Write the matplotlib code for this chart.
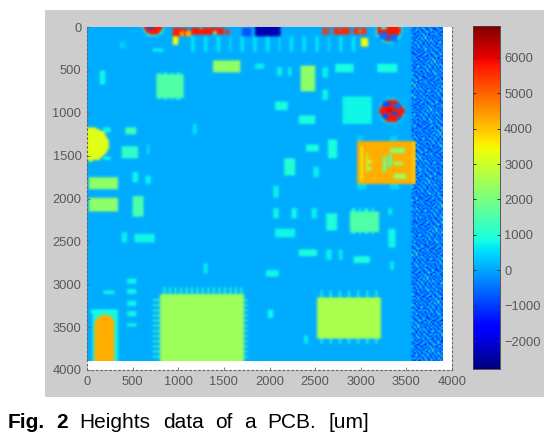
import numpy as np
import matplotlib
matplotlib.use('Agg')
import matplotlib.pyplot as plt
from matplotlib.colors import Normalize

plt.rcParams['font.family'] = ['Liberation Sans', 'DejaVu Sans']

W, H = 557, 438
STEP = 20
IMG_SIZE = 3900

vmin, vmax = -2790, 6900
board_height = 80
xticks = [0, 500, 1000, 1500, 2000, 2500, 3000, 3500, 4000]
yticks = [0, 500, 1000, 1500, 2000, 2500, 3000, 3500, 4000]
cbar_ticks = [-2000, -1000, 0, 1000, 2000, 3000, 4000, 5000, 6000]
caption_words = ['Fig.', '2', 'Heights', 'data', 'of', 'a', 'PCB.', '[um]']
caption_x = [8, 56, 79, 163, 215, 244, 267, 328]
caption_bold = [True, True, False, False, False, False, False, False]

# x0, y0, x1, y1, height in um
faint_pads = [
    (360, 190, 415, 260, 400), (1147, 130, 1182, 300, 600), (1282, 130, 1317, 300, 600),
    (1417, 130, 1452, 300, 600), (1552, 130, 1587, 300, 600), (1687, 130, 1722, 300, 600),
    (1822, 130, 1857, 300, 600), (1957, 130, 1992, 300, 600), (2092, 130, 2127, 300, 600),
    (2227, 130, 2262, 300, 600), (2362, 130, 2397, 300, 600), (2497, 130, 2532, 300, 600),
    (2632, 130, 2667, 300, 600), (2767, 130, 2802, 300, 600), (2902, 130, 2937, 300, 600),
]
cyan_pads = [
    (727, 260, 836, 307, 700), (1840, 443, 1950, 494, 700), (2078, 480, 2133, 580, 700),
    (135, 520, 205, 676, 800), (2060, 890, 2206, 980, 900), (1165, 1143, 1209, 1260, 650),
    (654, 1376, 690, 1493, 700), (508, 1706, 570, 1830, 800), (646, 1733, 698, 1850, 700),
    (2042, 2114, 2104, 2243, 800), (387, 2406, 442, 2515, 700), (526, 2417, 738, 2522, 800),
    (2060, 2359, 2279, 2452, 800), (1275, 2763, 1330, 2872, 700), (1969, 2845, 2100, 2930, 800),
    (442, 2944, 544, 2994, 800), (442, 3069, 544, 3119, 800), (442, 3205, 544, 3255, 800),
    (442, 3325, 544, 3375, 800), (442, 3457, 544, 3507, 800), (186, 3074, 303, 3114, 800),
    (1987, 3300, 2042, 3408, 800), (2236, 2114, 2291, 2231, 800), (2455, 2114, 2517, 2231, 700),
    (2627, 2172, 2736, 2386, 950), (3295, 2114, 3346, 2200, 700), (3291, 2367, 3386, 2573, 800),
    (2327, 2608, 2517, 2686, 900), (2627, 2608, 2681, 2717, 700), (2762, 2608, 2809, 2717, 700),
    (2919, 2678, 3091, 2755, 900), (3314, 2736, 3358, 2841, 700), (2380, 3599, 2426, 3700, 700),
    (2798, 812, 3127, 1143, 800), (2729, 443, 2911, 540, 850), (3174, 443, 3401, 548, 850),
    (2195, 482, 2243, 580, 700), (2590, 482, 2644, 600, 700), (2583, 735, 2644, 851, 800),
    (2316, 1046, 2499, 1143, 900), (2407, 1376, 2535, 1454, 900), (2645, 1330, 2736, 1540, 900),
    (2170, 1540, 2272, 1745, 1000), (2480, 1648, 2546, 1765, 700), (2042, 1862, 2097, 1998, 700),
    (2960, 1842, 3060, 1900, 500), (3330, 1842, 3430, 1900, 500), (2960, 1290, 3030, 1345, 400),
    (3330, 1290, 3400, 1345, 400), (40, 3300, 343, 3350, 900), (70, 3350, 343, 3900, 800),
    (180, 1182, 252, 1240, 800), (180, 1512, 252, 1570, 800),
]
mid_pads = [
    (416, 1182, 544, 1260, 1400), (380, 1407, 570, 1531, 1150), (508, 1990, 617, 2211, 1500),
]
chip_pins = [
    (780, 540, 810, 870, 800), (850, 540, 880, 870, 800), (920, 540, 950, 870, 800), (990, 540, 1020, 870, 800),
    (2910, 2114, 2940, 2425, 900), (2980, 2114, 3010, 2425, 900), (3050, 2114, 3080, 2425, 900), (3120, 2114, 3150, 2425, 900),
    (2560, 3086, 2590, 3708, 1000), (2660, 3086, 2690, 3708, 1000), (2760, 3086, 2790, 3708, 1000), (2860, 3086, 2890, 3708, 1000),
    (2960, 3086, 2990, 3708, 1000), (3060, 3086, 3090, 3708, 1000), (3160, 3086, 3190, 3708, 1000),
    (840, 3047, 860, 3120, 1100), (900, 3047, 920, 3120, 1100), (960, 3047, 980, 3120, 1100), (1020, 3047, 1040, 3120, 1100),
    (1080, 3047, 1100, 3120, 1100), (1140, 3047, 1160, 3120, 1100), (1200, 3047, 1220, 3120, 1100), (1260, 3047, 1280, 3120, 1100),
    (1320, 3047, 1340, 3120, 1100), (1380, 3047, 1400, 3120, 1100), (1440, 3047, 1460, 3120, 1100), (1500, 3047, 1520, 3120, 1100),
    (1560, 3047, 1580, 3120, 1100), (1620, 3047, 1640, 3120, 1100), (1680, 3047, 1700, 3120, 1100),
    (727, 3180, 1768, 3200, 1100), (727, 3240, 1768, 3260, 1100), (727, 3300, 1768, 3320, 1100), (727, 3360, 1768, 3380, 1100),
    (727, 3420, 1768, 3440, 1100), (727, 3480, 1768, 3500, 1100), (727, 3540, 1768, 3560, 1100), (727, 3600, 1768, 3620, 1100),
    (727, 3660, 1768, 3680, 1100), (727, 3720, 1768, 3740, 1100), (727, 3780, 1768, 3800, 1100), (727, 3840, 1768, 3860, 1100),
]
chips = [
    (1377, 393, 1677, 540, 2300), (752, 567, 1063, 832, 1550), (22, 1757, 343, 1908, 2250),
    (25, 1998, 332, 2154, 2250), (2342, 462, 2499, 766, 2250), (2875, 2153, 3204, 2394, 1550),
    (793, 3113, 1713, 3900, 2450), (2524, 3152, 3211, 3650, 2600),
]
orange_parts = [
    (2963, 1345, 3602, 1842, 4250), (88, 3470, 307, 3900, 4250),
]
orange_marks = [
    (3060, 1490, 3090, 1700, 2800), (3090, 1560, 3130, 1600, 2800), (3090, 1650, 3130, 1680, 2400),
    (3250, 1530, 3290, 1700, 1900), (3310, 1500, 3350, 1650, 1600), (3370, 1590, 3470, 1620, 2400),
    (3330, 1430, 3490, 1480, 2200), (3370, 1730, 3500, 1790, 2400), (3000, 1400, 3020, 1800, 3300),
    (3140, 1770, 3160, 1790, 3000),
]
yellow_pads = [(946, 130, 1000, 230, 3400), (3009, 132, 3082, 249, 3400)]
top_blue = [(1840, 0, 2120, 130, -2300), (1700, 30, 1800, 120, -800)]
top_red = [
    (946, 15, 1100, 120, 5700), (1020, 60, 1060, 120, 4300), (1150, 15, 1500, 110, 5800),
    (1080, 70, 1140, 120, 4200), (1530, 40, 1560, 110, 5600), (2580, 25, 2660, 100, 5500),
    (2700, 20, 2880, 110, 5600), (2930, 25, 3060, 110, 5500),
]
top_red_gaps = [
    (1040, 20, 1060, 50, 0), (1240, 20, 1270, 50, 2000), (1380, 70, 1420, 100, 1500),
    (2620, 40, 2640, 80, 0), (2760, 40, 2790, 70, 0), (2890, 30, 2930, 100, 0), (2990, 40, 3010, 80, 800),
]

# cx, cy, radius, height
ring_circles = [
    (727, 0, 125, 900), (3305, 50, 150, 800), (3339, 991, 150, 600),
]
solder_circles = [
    (46, 1376, 195, 3250), (727, 0, 105, 5800), (3305, 50, 128, 5800), (3339, 991, 133, 5800),
    (197, 3470, 110, 4250),
]
solder_spots = [
    (660, 0, 720, 50, -800), (3200, 90, 3300, 170, -500), (3330, 110, 3400, 180, -500), (3230, 10, 3290, 40, 800),
    (3250, 880, 3320, 940, -800), (3370, 900, 3440, 960, -500), (3240, 1020, 3300, 1080, -800),
    (3350, 1000, 3400, 1050, -800), (3290, 960, 3340, 1000, 6000), (3400, 1060, 3440, 1100, -500),
]

# rough heights of the unpopulated board edge, in hundreds of um
edge_rows = [
    [-8, -3, 2, -10, -5, 1, -7, -12, 3, -4, -9, 0, -6, 5, -11, -2, -8],
    [1, -11, -6, 4, -9, -2, 6, -5, -13, -1, 2, -8, -14, -3, 1, -10, -4],
    [-12, -4, 7, -7, 0, -14, -3, 3, -6, -10, 9, -2, -5, -12, -7, 4, -1],
    [-2, 3, -9, -15, 5, -6, -11, 0, 8, -3, -7, -13, 2, -4, 0, -9, -14],
    [-6, -13, 0, 2, -8, 4, -1, -10, -4, -15, 1, 5, -9, 7, -12, -3, 2],
    [5, -7, -3, -11, 1, -12, 8, -6, 2, -8, -4, -11, 0, -6, 3, -13, -5],
    [-10, 0, -14, 6, -4, -1, -9, 24, -12, 3, -6, -1, -10, -2, -8, 1, -7],
    [-3, -8, 4, -6, -11, 7, -5, 2, -2, -9, 0, -14, 6, -11, 4, -6, 0],
    [2, -12, -5, 1, -2, -9, 3, -13, 5, -7, 10, -3, -8, 1, -15, -2, -10],
    [-9, 6, -1, -13, 8, -4, -10, -1, -6, 1, -12, 4, -5, -9, 2, 7, -4],
    [-5, -10, 3, -3, -7, 2, -14, 5, -11, -2, -5, -8, 3, -13, -6, -1, -12],
    [0, -2, -12, 9, -10, -6, 1, -8, 4, -14, 6, -1, -11, 0, 5, -8, 3],
    [-14, 4, -7, -1, 3, -13, 6, -3, -9, 0, -10, 2, -4, -7, -12, 2, -6],
    [-4, -9, 1, -11, -5, 0, -8, 10, -1, -6, 3, -13, 7, -3, -1, -11, 1],
]
edge_shifts = [0, 5, 11, 3, 8, 14, 2, 9, 6, 12, 1, 7, 13, 4, 10]

centers = np.arange(0, IMG_SIZE, STEP) + STEP / 2
gx, gy = np.meshgrid(centers, centers)
heights = np.full(gx.shape, float(board_height))


def fill_rects(rects):
    for x0, y0, x1, y1, v in rects:
        heights[(gx >= x0) & (gx < x1) & (gy >= y0) & (gy < y1)] = v


def fill_circles(circles):
    for cx, cy, r, v in circles:
        heights[(gx - cx) ** 2 + (gy - cy) ** 2 <= r ** 2] = v


def soften(rgba):
    # the source is a small screenshot, so everything is a bit smeared
    padded = np.pad(rgba, ((1, 1), (1, 1), (0, 0)), mode='edge')
    kernel = [(0, 0, 8), (0, 1, 2), (0, -1, 2), (1, 0, 2), (-1, 0, 2), (1, 1, 1), (1, -1, 1), (-1, 1, 1), (-1, -1, 1)]
    out = np.zeros_like(rgba)
    for dy, dx, w in kernel:
        out += w * padded[1 + dy:padded.shape[0] - 1 + dy, 1 + dx:padded.shape[1] - 1 + dx]
    return out / 20


fill_rects(faint_pads)
fill_rects(cyan_pads)
fill_rects(chip_pins)
fill_rects(mid_pads)
fill_rects(chips)
fill_circles(ring_circles)
fill_rects(orange_parts)
fill_circles(solder_circles)
fill_rects(solder_spots)
fill_rects(orange_marks)
fill_rects(yellow_pads)
fill_rects(top_blue)
fill_rects(top_red)
fill_rects(top_red_gaps)

# right hand edge of the board, typed rows repeated down the strip
edge = np.array(edge_rows) * 100.0
edge_full = np.vstack([np.roll(edge, s, axis=1) for s in edge_shifts])
strip_start = np.searchsorted(centers, 3570)
n_rows, n_cols = heights[:, strip_start:].shape
heights[:, strip_start:] = edge_full[:n_rows, :n_cols]
orange_mask = (gx >= 2963) & (gx < 3602) & (gy >= 1345) & (gy < 1842)
heights[orange_mask & (gx >= 3570)] = 4000

fig = plt.figure(figsize=(W / 100, H / 100), dpi=100, facecolor='white')

# grey matlab figure panel behind the axes
panel = fig.add_axes([45 / W, 1 - 397 / H, 499 / W, 387 / H], facecolor='#cdcdcd')
panel.set_xticks([])
panel.set_yticks([])
for s in panel.spines.values():
    s.set_visible(False)

text_color = '#585858'
edge_color = '#666666'

ax = fig.add_axes([87 / W, 1 - 370 / H, 365 / W, 343 / H], facecolor='white')
norm = Normalize(vmin, vmax)
jet = plt.get_cmap('jet')
colours = jet(norm(heights))
smeared = soften(colours)
# keep the speckle of the edge strip, it is sharper than the rest
smeared[:, strip_start:] = 0.7 * colours[:, strip_start:] + 0.3 * smeared[:, strip_start:]
ax.imshow(smeared, extent=(0, IMG_SIZE, IMG_SIZE, 0), aspect='auto', interpolation='bilinear')
ax.set_xlim(0, 4000)
ax.set_ylim(4000, 0)
ax.set_xticks(xticks)
ax.set_yticks(yticks)
ax.tick_params(direction='in', length=2.5, width=0.6, color=edge_color, labelcolor=text_color,
               labelsize=9.3, pad=4)
for name, s in ax.spines.items():
    s.set_linestyle((0, (1.5, 2.5)))
    s.set_linewidth(0.8)
    s.set_color(edge_color)
ax.spines['top'].set_visible(False)

cax = fig.add_axes([473 / W, 1 - 369 / H, 27 / W, 343 / H])
cbar_grad = np.linspace(vmax, vmin, 256).reshape(-1, 1)
cax.imshow(cbar_grad, cmap='jet', norm=norm, extent=(0, 1, vmin, vmax), aspect='auto')
cax.set_xticks([])
cax.yaxis.tick_right()
cax.set_yticks(cbar_ticks)
cax.tick_params(axis='y', direction='in', length=2.5, width=0.7, color='#333333', right=True, left=True,
                labelcolor=text_color, labelsize=9.3, pad=3)
for s in cax.spines.values():
    s.set_linewidth(0.6)
    s.set_color('#444444')

for word, px, bold in zip(caption_words, caption_x, caption_bold):
    fig.text(px / W, 1 - 428 / H, word, fontsize=15, color='black', va='baseline',
             fontweight='bold' if bold else 'normal')

fig.savefig('out.png', dpi=100)
